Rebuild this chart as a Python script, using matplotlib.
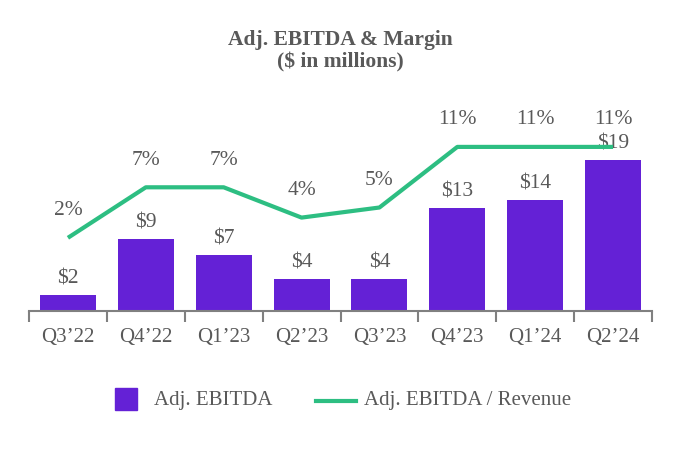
import matplotlib
matplotlib.use("Agg")
import matplotlib.pyplot as plt
import numpy as np
from matplotlib.patches import Rectangle
from matplotlib.lines import Line2D

quarters = ["Q3\u201922", "Q4\u201922", "Q1\u201923", "Q2\u201923", "Q3\u201923", "Q4\u201923", "Q1\u201924", "Q2\u201924"]
ebitda = [2, 9, 7, 4, 4, 13, 14, 19]
margin = [2, 7, 7, 4, 5, 11, 11, 11]

bar_color = "#6421D6"
line_color = "#2DBE82"
text_color = "#595959"
axis_color = "#808080"

plt.rcParams['font.family'] = ['Liberation Serif', 'DejaVu Serif']

W, H = 680, 450
fig = plt.figure(figsize=(6.8, 4.5), dpi=100)
ax = fig.add_axes([29 / W, 1 - 311 / H, 623 / W, 211 / H])
x = np.arange(len(quarters))

# bars + dollar labels
ax.bar(x, ebitda, width=0.72, color=bar_color, zorder=2)
ax.set_ylim(0, 211 / 7.95)
ax.set_xlim(-0.5, len(quarters) - 0.5)
for xi, v in zip(x, ebitda):
    ax.annotate(f"${v}", (xi, v), xytext=(0, 11.5), textcoords="offset points",
                ha="center", va="center", fontsize=15.5, color=text_color)

# margin line on its own scale
ax2 = ax.twinx()
ax2.plot(x, margin, color=line_color, lw=3, solid_capstyle="butt", zorder=3)
ax2.set_ylim(-53 / 10.1, 158 / 10.1)
for xi, m in zip(x, margin):
    ax2.annotate(f"{m}%", (xi, m), xytext=(0, 19.5), textcoords="offset points",
                 ha="center", va="center", fontsize=15.5, color=text_color)

for a in (ax, ax2):
    for s in ["top", "right", "left"]:
        a.spines[s].set_visible(False)
    a.set_yticks([])
ax2.spines["bottom"].set_visible(False)
ax.spines["bottom"].set_color(axis_color)
ax.spines["bottom"].set_linewidth(1.5)

ax.set_xticks(x)
ax.set_xticklabels(quarters, fontsize=15, color=text_color)
ax.tick_params(axis="x", which="major", length=0, pad=12)
ax.set_xticks(np.arange(-0.5, len(quarters), 1.0), minor=True)
ax.tick_params(axis="x", which="minor", length=8, width=1.5, color=axis_color)

fig.text(0.5, 1 - 40 / H, "Adj. EBITDA & Margin", ha="center", va="center",
         fontsize=15.5, fontweight="bold", color=text_color)
fig.text(0.5, 1 - 62 / H, "($ in millions)", ha="center", va="center",
         fontsize=15.5, fontweight="bold", color=text_color)

# legend drawn by hand so the square and the line keep their own sizes
fig.patches.append(Rectangle((115 / W, 1 - 410 / H), 22 / W, 22 / H,
                             transform=fig.transFigure, color=bar_color))
fig.text(154 / W, 1 - 400 / H, "Adj. EBITDA", ha="left", va="center",
         fontsize=15, color=text_color)
fig.lines.append(Line2D([316 / W, 356 / W], [1 - 401 / H, 1 - 401 / H],
                        transform=fig.transFigure, color=line_color, lw=3))
fig.text(364 / W, 1 - 400 / H, "Adj. EBITDA / Revenue", ha="left", va="center",
         fontsize=15, color=text_color)

fig.savefig("out.png", dpi=100)
